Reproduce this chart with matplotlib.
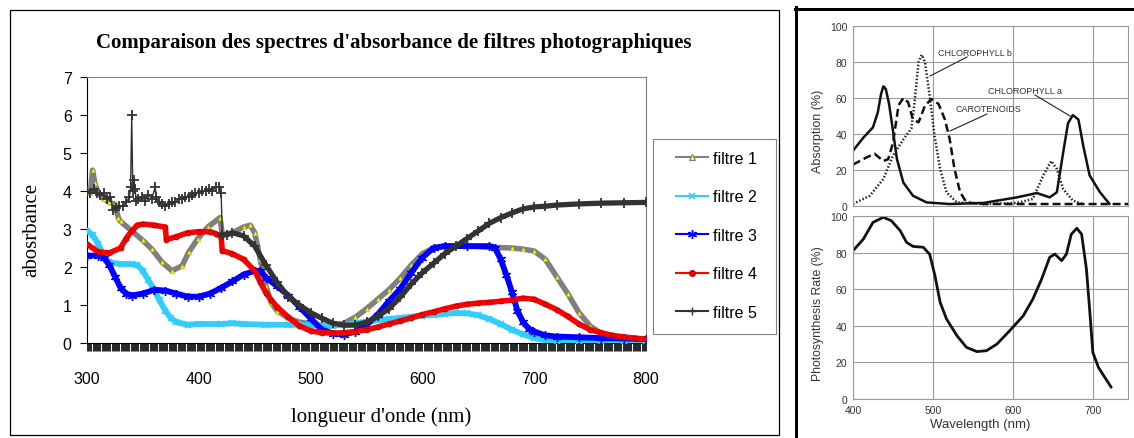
import matplotlib
matplotlib.use("Agg")
import matplotlib.pyplot as plt
from matplotlib.lines import Line2D
from matplotlib.patches import Rectangle
import numpy as np

plt.rcParams['font.family'] = ['Liberation Sans', 'DejaVu Sans']

# ---------------- data: left chart (absorbance of photographic filters) ----------------
wl_f1 = [300, 303, 305, 307, 310, 315, 320, 325, 328, 330, 340, 350, 358, 367, 376, 385, 391, 399, 408, 419, 421,
         430, 440, 446, 450, 455, 460, 465, 470, 480, 490, 500, 510, 520, 530, 540, 550, 560, 570, 580, 590,
         600, 610, 620, 640, 660, 680, 690, 700, 710, 720, 730, 740, 750, 760, 770, 780, 790, 800]
abs_f1 = [4.0, 3.95, 4.55, 4.2, 3.95, 3.8, 3.7, 3.65, 3.3, 3.2, 2.95, 2.7, 2.47, 2.13, 1.9, 2.03, 2.39, 2.74, 3.05, 3.3, 2.85,
          2.9, 3.05, 3.1, 2.9, 2.2, 1.5, 1.05, 0.85, 0.65, 0.55, 0.5, 0.45, 0.45, 0.52, 0.68, 0.9, 1.15, 1.4, 1.7, 2.05,
          2.35, 2.5, 2.55, 2.55, 2.52, 2.5, 2.47, 2.42, 2.2, 1.75, 1.3, 0.8, 0.45, 0.25, 0.15, 0.12, 0.1, 0.1]

wl_f2 = [300, 305, 310, 315, 320, 330, 340, 345, 350, 355, 360, 365, 370, 375, 380, 390, 400, 420, 430, 440, 460,
         480, 500, 520, 530, 540, 550, 560, 570, 580, 590, 600, 610, 620, 630, 640, 650, 660, 670, 680, 690, 700,
         710, 720, 740, 760, 780, 800]
abs_f2 = [2.95, 2.85, 2.6, 2.3, 2.12, 2.08, 2.08, 2.05, 1.9, 1.65, 1.4, 1.12, 0.85, 0.65, 0.55, 0.48, 0.5, 0.5, 0.52, 0.5, 0.48,
          0.48, 0.47, 0.46, 0.48, 0.52, 0.56, 0.6, 0.63, 0.66, 0.69, 0.72, 0.74, 0.77, 0.79, 0.78, 0.73, 0.63, 0.5, 0.35, 0.23, 0.13,
          0.07, 0.05, 0.05, 0.05, 0.05, 0.05]

wl_f3 = [300, 310, 315, 320, 325, 330, 335, 340, 350, 360, 370, 380, 390, 400, 410, 420, 430, 440, 450, 455, 460,
         470, 480, 490, 500, 510, 520, 530, 540, 550, 560, 570, 580, 590, 600, 610, 620, 640, 660, 665, 670, 675,
         680, 685, 690, 695, 700, 710, 720, 740, 760, 780, 800]
abs_f3 = [2.3, 2.3, 2.25, 2.05, 1.75, 1.45, 1.3, 1.25, 1.3, 1.4, 1.38, 1.3, 1.22, 1.22, 1.3, 1.45, 1.62, 1.8, 1.9, 1.9, 1.72,
          1.5, 1.25, 0.95, 0.65, 0.35, 0.25, 0.22, 0.3, 0.48, 0.75, 1.1, 1.42, 1.85, 2.25, 2.5, 2.55, 2.55, 2.55, 2.5, 2.2, 1.8,
          1.35, 0.85, 0.55, 0.38, 0.3, 0.2, 0.17, 0.15, 0.13, 0.12, 0.1]

wl_f4 = [300, 310, 320, 330, 335, 340, 345, 350, 360, 370, 371, 380, 390, 400, 410, 415, 420, 421, 430, 440, 450,
         455, 460, 465, 470, 480, 490, 500, 510, 520, 530, 540, 550, 560, 570, 580, 590, 600, 610, 620, 630, 640,
         650, 660, 670, 680, 690, 700, 710, 720, 730, 740, 750, 760, 770, 780, 790, 800]
abs_f4 = [2.6, 2.4, 2.37, 2.5, 2.75, 2.95, 3.1, 3.13, 3.1, 3.05, 2.72, 2.8, 2.9, 2.93, 2.93, 2.88, 2.8, 2.43, 2.35, 2.2, 1.9,
          1.6, 1.32, 1.12, 0.95, 0.68, 0.45, 0.32, 0.27, 0.26, 0.27, 0.3, 0.35, 0.42, 0.5, 0.58, 0.66, 0.75, 0.82, 0.9, 0.97, 1.02,
          1.05, 1.07, 1.1, 1.13, 1.18, 1.15, 1.02, 0.88, 0.7, 0.5, 0.35, 0.27, 0.2, 0.16, 0.13, 0.1]

wl_f5 = [300, 303, 306, 309, 312, 315, 318, 321, 323, 326, 329, 332, 335, 338, 339, 340, 341, 342, 343, 344, 346,
         349, 352, 355, 358, 361, 362, 364, 367, 370, 373, 376, 379, 382, 385, 388, 391, 394, 397, 400, 403, 406,
         409, 412, 415, 418, 420, 421, 425, 430, 440, 450, 460, 470, 480, 490, 500, 510, 520, 530, 540, 550, 560,
         570, 580, 590, 600, 610, 620, 630, 640, 650, 660, 670, 680, 690, 700, 710, 720, 740, 760, 780, 800]
abs_f5 = [4.0, 3.95, 4.05, 3.95, 3.9, 3.95, 3.8, 3.85, 3.5, 3.55, 3.6, 3.6, 3.7, 3.85, 4.1, 6.0, 4.0, 4.3, 4.05, 3.75, 3.8,
          3.85, 3.75, 3.9, 3.8, 4.1, 3.85, 3.7, 3.65, 3.6, 3.65, 3.7, 3.7, 3.8, 3.8, 3.85, 3.85, 3.9, 3.95, 3.95, 4.0, 4.0,
          4.05, 4.0, 4.1, 4.1, 3.95, 2.85, 2.85, 2.9, 2.82, 2.55, 2.05, 1.6, 1.22, 1.0, 0.8, 0.65, 0.52, 0.47, 0.47, 0.55, 0.7,
          0.9, 1.2, 1.55, 1.85, 2.1, 2.35, 2.55, 2.75, 2.95, 3.15, 3.3, 3.42, 3.53, 3.58, 3.6, 3.63, 3.66, 3.68, 3.69, 3.7]

filter_labels = ['filtre 1', 'filtre 2', 'filtre 3', 'filtre 4', 'filtre 5']
x_ticks_left = [300, 400, 500, 600, 700, 800]
y_ticks_left = [0, 1, 2, 3, 4, 5, 6, 7]

# ---------------- data: right figure (pigments absorption / photosynthesis) ----------------
chl_a_wl = [400, 413, 425, 431, 435, 438, 441, 445, 448, 455, 463, 475, 492, 521, 563, 605, 630, 646, 655, 663,
            669, 675, 682, 688, 696, 709, 721]
chl_a = [30.7, 38, 43.7, 52, 62, 66.5, 65, 57, 48, 26, 13, 5.7, 2, 1.1, 1.7, 4.8, 7.2, 4.8, 7.6, 30,
         46, 50.5, 48, 33.5, 17, 7.6, 1.1]
chl_b_wl = [400, 421, 438, 450, 463, 473, 477, 482, 486, 490, 496, 502, 509, 517, 530, 563, 605, 625, 638, 648,
            655, 663, 675, 688]
chl_b = [1.1, 5.7, 15, 28, 37, 43, 57.6, 80, 84, 80, 61, 39, 20.5, 7.6, 2, 1.1, 1.7, 3.9, 17, 25,
         20.5, 9.4, 3, 1.1]
car_wl = [400, 417, 427, 438, 444, 450, 457, 463, 469, 475, 482, 490, 498, 507, 515, 521, 527, 534, 542, 563, 744]
car = [23, 27, 29, 25, 26, 35, 56, 60, 57.6, 48, 46.5, 55.7, 59.4, 56.7, 48, 37, 20.5, 7.6, 2, 1.1, 1.1]
photo_wl = [400, 413, 425, 438, 448, 459, 467, 475, 488, 496, 502.5, 509, 517, 530, 542, 555, 567, 580, 596, 613,
            625, 636, 646, 652.5, 661, 667, 673, 680, 686, 692, 696, 700, 707, 715, 723]
photo = [81, 87.4, 96.5, 99.3, 97.4, 92, 85.6, 83.4, 82.9, 79, 67.4, 52.8, 43.7, 34.6, 28.2, 25.9, 26.4, 30, 37.3, 45.5,
         54.6, 65.6, 77.4, 79.2, 75.6, 79.2, 90, 93.3, 90, 71, 49, 25.5, 17.3, 11.8, 6.4]
pct_ticks = [0, 20, 40, 60, 80, 100]
wl_ticks_right = [400, 500, 600, 700]

# ---------------- figure ----------------
W, H, DPI = 1134, 439, 100
PT = 72.0 / DPI
fig = plt.figure(figsize=(W / DPI, H / DPI), dpi=DPI)


def ax_px(x0, y0, x1, y1):
    return fig.add_axes([x0 / W, 1 - y1 / H, (x1 - x0) / W, (y1 - y0) / H])


def fx(x):
    return x / W


def fy(y):
    return 1 - y / H


# ---- left chart ----
ax = ax_px(87, 78, 646, 344)
ax.set_xlim(300, 800)
ax.set_ylim(0, 7)

styles = [
    dict(color='#808080', lw=4.0, marker='^', ms=3.2, mfc='#FFFF00', mec='#A0A000', mew=0.3),
    dict(color='#33CCFF', lw=4.2, marker='x', ms=4.5, mec='#33CCFF', mew=1.2),
    dict(color='#0000FF', lw=4.2, marker=(6, 2, 0), ms=6.5, mec='#0000FF', mew=1.0),
    dict(color='#FF0000', lw=4.0, marker='o', ms=3.5, mfc='#FF0000', mec='#B00000', mew=0.6),
]
data = [(wl_f1, abs_f1), (wl_f2, abs_f2), (wl_f3, abs_f3), (wl_f4, abs_f4)]
for (wl, ab), st in zip(data, styles):
    ax.plot(wl, ab, zorder=3, **st)

wl5 = np.array(wl_f5)
ab5 = np.array(abs_f5)
ax.plot(wl5, ab5, color='#333333', lw=1.0, marker='+', ms=7, mew=1.3, zorder=4)
m = wl5 >= 421
ax.plot(wl5[m], ab5[m], color='#333333', lw=3.8, zorder=4)

ax.set_xticks(x_ticks_left)
ax.set_xticks(np.arange(300, 801, 1), minor=True)
ax.set_yticks(y_ticks_left)
ax.tick_params(axis='x', which='both', direction='out', length=7.5 * PT, width=0.6, color='black', pad=15,
               labelsize=11.5)
ax.tick_params(axis='y', which='major', direction='out', length=7 * PT, width=0.8, color='black', pad=6,
               labelsize=11.5)
for s in ['top', 'right']:
    ax.spines[s].set_color('#808080')
    ax.spines[s].set_linewidth(0.8)
for s in ['left', 'bottom']:
    ax.spines[s].set_color('black')
    ax.spines[s].set_linewidth(0.8)

fig.text(fx(394), fy(43), "Comparaison des spectres d'absorbance de filtres photographiques",
         ha='center', va='center', family='Liberation Serif', weight='bold', size=15)
fig.text(fx(32), fy(230), 'abosrbance', rotation=90, ha='center', va='center',
         family='Liberation Serif', size=15)
fig.text(fx(381), fy(417), "longueur d'onde (nm)", ha='center', va='center',
         family='Liberation Serif', size=15)

handles = [
    Line2D([], [], color='#808080', lw=1.5, marker='^', ms=5, mfc='#FFFF00', mec='#808080', mew=0.8),
    Line2D([], [], color='#33CCFF', lw=1.5, marker='x', ms=5, mew=1.3),
    Line2D([], [], color='#0000FF', lw=1.5, marker=(6, 2, 0), ms=6.5, mew=1.0),
    Line2D([], [], color='#FF0000', lw=1.5, marker='o', ms=4, mfc='#FF0000', mec='#B00000'),
    Line2D([], [], color='#333333', lw=1.5, marker='+', ms=6, mew=1.0),
]
fig.legend(handles, filter_labels, loc='upper left', bbox_to_anchor=(fx(676), fy(152)), frameon=False,
           prop=dict(family='Liberation Sans', size=11.5), handlelength=2.0, handletextpad=0.3,
           labelspacing=1.47, borderpad=0, borderaxespad=0)
fig.add_artist(Rectangle((fx(653), fy(335)), (776 - 653) / W, (335 - 140) / H, transform=fig.transFigure,
                         fill=False, ec='#808080', lw=0.8))
fig.add_artist(Rectangle((fx(10), fy(436)), (779 - 10) / W, (436 - 11) / H, transform=fig.transFigure,
                         fill=False, ec='black', lw=0.9))

# ---- right figure ----
grid_c = '#9a9a9a'
txt_c = '#333333'
axT = ax_px(853, 27, 1128, 207)
axB = ax_px(853, 217, 1128, 400)
for a in (axT, axB):
    a.set_xlim(400, 744)
    a.set_ylim(0, 100)
    a.set_xticks(wl_ticks_right)
    a.set_yticks(pct_ticks)
    a.grid(True, color=grid_c, lw=0.8)
    a.set_axisbelow(True)
    for s in a.spines.values():
        s.set_color(grid_c)
        s.set_linewidth(0.8)
    a.tick_params(length=0, labelsize=7.5, labelcolor=txt_c, pad=4)
axT.tick_params(labelbottom=False)

axT.plot(chl_a_wl, chl_a, color='#111111', lw=1.8, solid_capstyle='round')
axT.plot(chl_b_wl, chl_b, color='#222222', lw=1.8, linestyle=(0, (0.6, 0.8)))
axT.plot(car_wl, car, color='#111111', lw=1.8, linestyle=(0, (3.2, 1.6)))
axB.plot(photo_wl, photo, color='#111111', lw=2.0, solid_capstyle='round')

ann = dict(size=6.5, color=txt_c, ha='left', va='center')
fig.text(fx(938), fy(53), 'CHLOROPHYLL b', **ann)
fig.text(fx(988), fy(91), 'CHLOROPHYLL a', **ann)
fig.text(fx(955), fy(110), 'CAROTENOIDS', **ann)
for (x0, y0, x1, y1) in [(967, 58, 930, 77), (1035, 96, 1070, 117), (987, 115, 950, 132)]:
    fig.add_artist(Line2D([fx(x0), fx(x1)], [fy(y0), fy(y1)], transform=fig.transFigure, color='#222222', lw=0.8))

fig.text(fx(818), fy(131), 'Absorption (%)', rotation=90, ha='center', va='center', size=9, color=txt_c)
fig.text(fx(818), fy(314), 'Photosynthesis Rate (%)', rotation=90, ha='center', va='center', size=8.8, color=txt_c)
fig.text(fx(980), fy(425), 'Wavelength (nm)', ha='center', va='center', size=9.5, color=txt_c)

fig.add_artist(Line2D([fx(796), fx(796)], [0, fy(8)], transform=fig.transFigure, color='black', lw=3 * PT))
fig.add_artist(Line2D([fx(795), 1], [fy(9.5), fy(9.5)], transform=fig.transFigure, color='black', lw=3 * PT))

fig.savefig('out.png', dpi=DPI)
